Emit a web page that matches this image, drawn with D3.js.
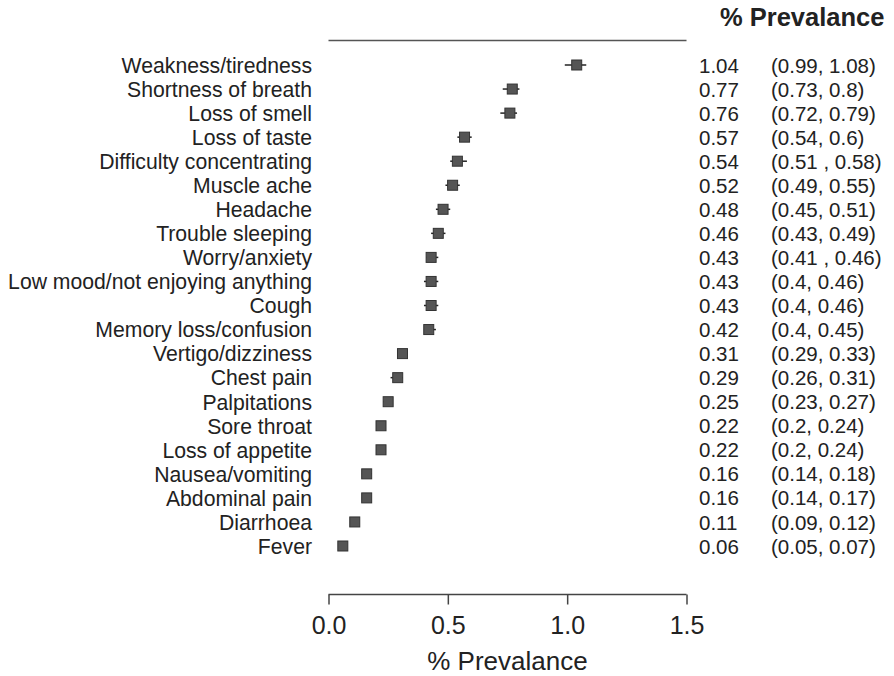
<!DOCTYPE html>
<html>
<head>
<meta charset="utf-8">
<script src="https://cdn.jsdelivr.net/npm/d3@7"></script>
<style>
  body { margin: 0; background: #fff; }
  svg { font-family: "Liberation Sans", Arial, sans-serif; }
</style>
</head>
<body>
<svg width="894" height="676"></svg>
<script>
const symptoms = ["Weakness/tiredness", "Shortness of breath", "Loss of smell", "Loss of taste",
  "Difficulty concentrating", "Muscle ache", "Headache", "Trouble sleeping", "Worry/anxiety",
  "Low mood/not enjoying anything", "Cough", "Memory loss/confusion", "Vertigo/dizziness",
  "Chest pain", "Palpitations", "Sore throat", "Loss of appetite", "Nausea/vomiting",
  "Abdominal pain", "Diarrhoea", "Fever"];
const estimate = [1.04, 0.77, 0.76, 0.57, 0.54, 0.52, 0.48, 0.46, 0.43, 0.43, 0.43, 0.42,
  0.31, 0.29, 0.25, 0.22, 0.22, 0.16, 0.16, 0.11, 0.06];
const lower = [0.99, 0.73, 0.72, 0.54, 0.51, 0.49, 0.45, 0.43, 0.41, 0.4, 0.4, 0.4,
  0.29, 0.26, 0.23, 0.2, 0.2, 0.14, 0.14, 0.09, 0.05];
const upper = [1.08, 0.8, 0.79, 0.6, 0.58, 0.55, 0.51, 0.49, 0.46, 0.46, 0.46, 0.45,
  0.33, 0.31, 0.27, 0.24, 0.24, 0.18, 0.17, 0.12, 0.07];
const ciText = ["(0.99, 1.08)", "(0.73, 0.8)", "(0.72, 0.79)", "(0.54, 0.6)", "(0.51 , 0.58)",
  "(0.49, 0.55)", "(0.45, 0.51)", "(0.43, 0.49)", "(0.41 , 0.46)", "(0.4, 0.46)", "(0.4, 0.46)",
  "(0.4, 0.45)", "(0.29, 0.33)", "(0.26, 0.31)", "(0.23, 0.27)", "(0.2, 0.24)", "(0.2, 0.24)",
  "(0.14, 0.18)", "(0.14, 0.17)", "(0.09, 0.12)", "(0.05, 0.07)"];
const majorTicks = [0, 0.5, 1.0, 1.5];
const minorTicks = [0.25, 0.75, 1.25];

const rows = symptoms.map((s, i) => ({
  name: s, est: estimate[i], lo: lower[i], hi: upper[i], ci: ciText[i]
}));

const svg = d3.select("svg");

const x = d3.scaleLinear().domain([0, 1.5]).range([328.5, 686.5]);
const y = d3.scalePoint().domain(symptoms).range([65, 546]);

// top rule
svg.append("line")
  .attr("x1", x(0)).attr("x2", x(1.5))
  .attr("y1", 40.5).attr("y2", 40.5)
  .attr("stroke", "#555").attr("stroke-width", 1.5);

// header
svg.append("text")
  .attr("x", 720).attr("y", 26)
  .attr("font-size", 25.5).attr("font-weight", "bold")
  .attr("fill", "#222")
  .text("% Prevalance");

// symptom labels
svg.append("g").selectAll("text")
  .data(rows).enter().append("text")
  .attr("x", 312)
  .attr("y", d => y(d.name))
  .attr("dy", "0.37em")
  .attr("text-anchor", "end")
  .attr("font-size", 21.2)
  .attr("fill", "#222")
  .text(d => d.name);

// CI lines
const marks = svg.append("g");
marks.selectAll("line")
  .data(rows).enter().append("line")
  .attr("x1", d => x(d.lo)).attr("x2", d => x(d.hi))
  .attr("y1", d => y(d.name)).attr("y2", d => y(d.name))
  .attr("stroke", "#222").attr("stroke-width", 1.5);

// squares
const sq = 10;
marks.selectAll("rect")
  .data(rows).enter().append("rect")
  .attr("x", d => x(d.est) - sq / 2)
  .attr("y", d => y(d.name) - sq / 2)
  .attr("width", sq).attr("height", sq)
  .attr("fill", "#555").attr("stroke", "#333").attr("stroke-width", 1);

// value columns
svg.append("g").selectAll("text")
  .data(rows).enter().append("text")
  .attr("x", 699)
  .attr("y", d => y(d.name))
  .attr("dy", "0.37em")
  .attr("font-size", 20.5)
  .attr("fill", "#222")
  .text(d => d3.format(".2f")(d.est));

svg.append("g").selectAll("text")
  .data(rows).enter().append("text")
  .attr("x", 771)
  .attr("y", d => y(d.name))
  .attr("dy", "0.37em")
  .attr("font-size", 20.5)
  .attr("fill", "#222")
  .text(d => d.ci);

// bottom axis
const axisY = 594.5;
const axisG = svg.append("g").attr("transform", `translate(0,${axisY})`);
axisG.call(d3.axisBottom(x).tickValues(minorTicks).tickSize(5).tickFormat(""));
axisG.call(d3.axisBottom(x).tickValues(majorTicks).tickSize(10).tickSizeOuter(0)
  .tickFormat(d3.format(".1f")).tickPadding(12));
axisG.selectAll("path, line").attr("stroke", "#444").attr("stroke-width", 1.5);
axisG.select(".domain").attr("d", `M${x(0)},0H${x(1.5)}`);
axisG.selectAll("text")
  .attr("font-size", 25)
  .attr("font-family", "Liberation Sans, Arial, sans-serif")
  .attr("fill", "#222");

svg.append("text")
  .attr("x", x(0.75)).attr("y", 670)
  .attr("text-anchor", "middle")
  .attr("font-size", 26)
  .attr("fill", "#222")
  .text("% Prevalance");
</script>
</body>
</html>
